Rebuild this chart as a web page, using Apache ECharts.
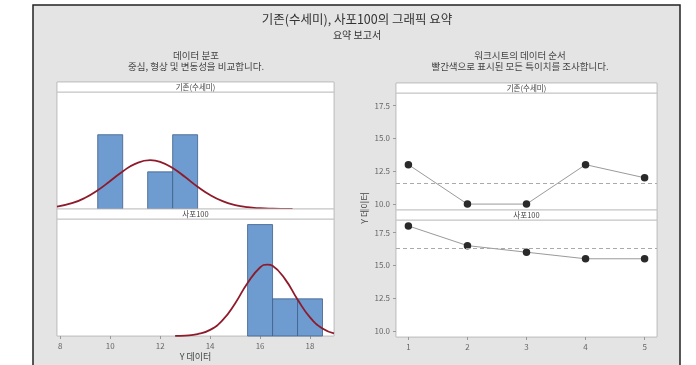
<!DOCTYPE html>
<html><head><meta charset="utf-8">
<script src="https://cdn.jsdelivr.net/npm/echarts@6/dist/echarts.min.js"></script>
<style>html,body{margin:0;padding:0;background:#fff;}#c{width:696px;height:365px;}</style>
</head><body><div id="c"></div>
<script>
// ---- data ----
const titleMain = '기존(수세미), 사포100의 그래픽 요약';
const titleSub = '요약 보고서';
const leftTitle = ['데이터 분포', '중심, 형상 및 변동성을 비교합니다.'];
const rightTitle = ['워크시트의 데이터 순서', '빨간색으로 표시된 모든 특이치를 조사합니다.'];
const groupNames = ['기존(수세미)', '사포100'];
const axisTitle = 'Y 데이터';

const binWidth = 1;
const histCenters1 = [10, 12, 13];
const histCounts1 = [2, 1, 2];
const histCenters2 = [16, 17, 18];
const histCounts2 = [3, 1, 1];

const curveX1 = [7.87, 8.5, 9, 9.5, 10, 10.5, 11, 11.6, 12, 12.5, 13, 13.5, 14, 14.5, 15, 15.5, 16, 16.5, 17, 17.3];
const curveY1 = [0.064, 0.163, 0.303, 0.505, 0.754, 1.011, 1.216, 1.315, 1.270, 1.103, 0.859, 0.600, 0.376, 0.211, 0.107, 0.048, 0.020, 0.007, 0.002, 0.001];
const curveX2 = [12.6, 13, 13.5, 14, 14.5, 15, 15.5, 16, 16.3, 16.5, 17, 17.5, 18, 18.5, 18.96];
const curveY2 = [0.003, 0.012, 0.050, 0.164, 0.426, 0.877, 1.429, 1.845, 1.924, 1.889, 1.532, 0.985, 0.502, 0.203, 0.072];

const obsIndex = [1, 2, 3, 4, 5];
const obsValues1 = [13, 10, 10, 13, 12];
const obsValues2 = [18, 16.5, 16, 15.5, 15.5];
const mean1 = 11.6;
const mean2 = 16.3;

const histTicks = [8, 10, 12, 14, 16, 18];
const valueTicks = [10, 12.5, 15, 17.5];
const obsTicks = [1, 2, 3, 4, 5];

// ---- chart ----
const FONT = '"Noto Sans CJK KR", "Noto Sans", sans-serif';
const chart = echarts.init(document.getElementById('c'), null, {renderer: 'canvas'});

const BAR = '#6e9bd0', BAR_EDGE = '#3f5f8a', CURVE = '#8e1b2b', GRIDC = '#c4c4c4', LBL = '#666';

const grids = [
  {left: 57, top: 92, width: 277, height: 117},
  {left: 57, top: 219, width: 277, height: 117},
  {left: 396, top: 93, width: 261, height: 117},
  {left: 396, top: 220, width: 261, height: 117}
].map(g => Object.assign(g, {show: true, backgroundColor: '#fff', borderColor: GRIDC, borderWidth: 1}));

function histAxisX(idx, showLabels) {
  return {
    type: 'value', gridIndex: idx, min: 7.87, max: 18.96,
    axisLine: {show: false}, splitLine: {show: false},
    axisTick: {show: showLabels, customValues: histTicks, length: 3, lineStyle: {color: '#999'}},
    axisLabel: {show: showLabels, customValues: histTicks, color: LBL, fontSize: 8, fontFamily: FONT, margin: 6},
    name: showLabels ? axisTitle : '', nameLocation: 'middle', nameGap: 16,
    nameTextStyle: {color: '#444', fontSize: 9, fontFamily: FONT}
  };
}
function histAxisY(idx) {
  return {type: 'value', gridIndex: idx, min: 0, max: 3.15,
    axisLine: {show: false}, axisTick: {show: false}, axisLabel: {show: false}, splitLine: {show: false}};
}
function obsAxisX(idx, showLabels) {
  return {type: 'value', gridIndex: idx, min: 0.79, max: 5.21,
    axisLine: {show: false}, splitLine: {show: false},
    axisTick: {show: showLabels, customValues: obsTicks, length: 3, lineStyle: {color: '#999'}},
    axisLabel: {show: showLabels, customValues: obsTicks, color: LBL, fontSize: 8, fontFamily: FONT, margin: 6}};
}
function obsAxisY(idx) {
  return {type: 'value', gridIndex: idx, min: 9.55, max: 18.45,
    axisLine: {show: false}, splitLine: {show: false},
    axisTick: {show: true, customValues: valueTicks, length: 3, lineStyle: {color: '#999'}},
    axisLabel: {customValues: valueTicks, color: LBL, fontSize: 8, fontFamily: FONT, margin: 6,
      formatter: v => v.toFixed(1)}};
}

function histSeries(idx, centers, counts) {
  return {
    type: 'custom', xAxisIndex: idx, yAxisIndex: idx,
    data: centers.map((c, i) => [c, counts[i]]),
    renderItem: function (params, api) {
      const c = api.value(0), n = api.value(1);
      const p0 = api.coord([c - binWidth / 2, n]);
      const p1 = api.coord([c + binWidth / 2, 0]);
      return {type: 'rect', shape: {x: p0[0], y: p0[1], width: p1[0] - p0[0], height: p1[1] - p0[1]},
        style: {fill: BAR, stroke: BAR_EDGE, lineWidth: 0.8}};
    },
    z: 2
  };
}
function curveSeries(idx, xs, ys) {
  return {type: 'line', xAxisIndex: idx, yAxisIndex: idx, smooth: true, showSymbol: false,
    data: xs.map((x, i) => [x, ys[i]]), lineStyle: {color: CURVE, width: 1.8}, z: 3, silent: true};
}
function obsSeries(idx, vals, mean) {
  return {type: 'line', xAxisIndex: idx, yAxisIndex: idx,
    data: obsIndex.map((x, i) => [x, vals[i]]),
    symbol: 'circle', symbolSize: 7.5,
    itemStyle: {color: '#2a2a2a'}, lineStyle: {color: '#9a9a9a', width: 1},
    markLine: {silent: true, symbol: 'none', label: {show: false},
      lineStyle: {color: '#aaa', type: [4, 3], width: 1},
      data: [{yAxis: mean}]},
    z: 3};
}

function txt(x, y, t, size, color, extra) {
  return Object.assign({type: 'text', x: x, y: y, z: 10,
    style: {text: t, fontSize: size, fill: color, fontFamily: FONT, textAlign: 'center', textVerticalAlign: 'middle'}}, extra || {});
}

function stripGraphics(x, y, w, label) {
  return [
    {type: 'rect', shape: {x: x, y: y, width: w, height: 10}, style: {fill: '#fff', stroke: GRIDC, lineWidth: 1}, z: 5},
    txt(x + w / 2, y + 5.5, label, 7.5, '#444')
  ];
}

const graphics = [
  {type: 'rect', shape: {x: 33, y: 5, width: 647, height: 400}, style: {fill: '#e4e4e4', stroke: '#222', lineWidth: 1.5}, z: -10},
  {type: 'rect', shape: {x: 57, y: 82, width: 277, height: 254}, style: {fill: '#fff', stroke: GRIDC, lineWidth: 1}, z: -5},
  {type: 'rect', shape: {x: 396, y: 83, width: 261, height: 254}, style: {fill: '#fff', stroke: GRIDC, lineWidth: 1}, z: -5},
  txt(357, 19, titleMain, 12.5, '#333'),
  txt(357, 35, titleSub, 10, '#333'),
  txt(196, 55, leftTitle[0], 9.5, '#444'),
  txt(196, 66, leftTitle[1], 9.5, '#444'),
  txt(520, 55, rightTitle[0], 9.5, '#444'),
  txt(520, 66, rightTitle[1], 9.5, '#444'),
  txt(365, 208, axisTitle, 9, '#444', {rotation: Math.PI / 2})
].concat(
  stripGraphics(57, 82, 277, groupNames[0]),
  stripGraphics(57, 209, 277, groupNames[1]),
  stripGraphics(396, 83, 261, groupNames[0]),
  stripGraphics(396, 210, 261, groupNames[1])
);

chart.setOption({
  animation: false,
  backgroundColor: '#fff',
  textStyle: {fontFamily: FONT},
  grid: grids,
  xAxis: [histAxisX(0, false), histAxisX(1, true), obsAxisX(2, false), obsAxisX(3, true)],
  yAxis: [histAxisY(0), histAxisY(1), obsAxisY(2), obsAxisY(3)],
  series: [
    histSeries(0, histCenters1, histCounts1),
    curveSeries(0, curveX1, curveY1),
    histSeries(1, histCenters2, histCounts2),
    curveSeries(1, curveX2, curveY2),
    obsSeries(2, obsValues1, mean1),
    obsSeries(3, obsValues2, mean2)
  ],
  graphic: graphics
});
</script></body></html>
